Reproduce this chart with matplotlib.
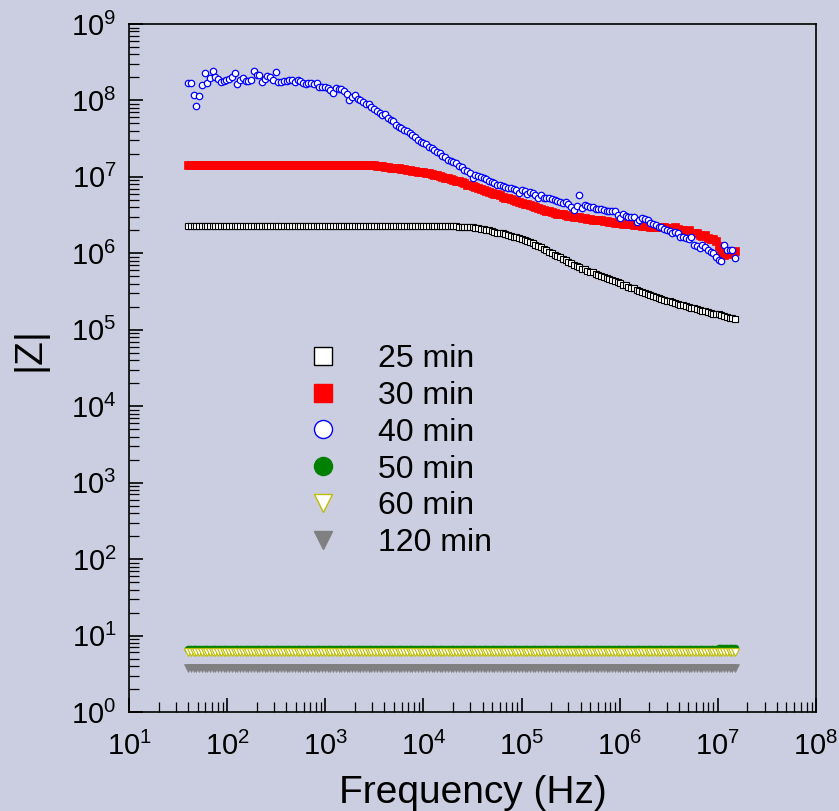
import numpy as np
import matplotlib
matplotlib.use('Agg')
import matplotlib.pyplot as plt
from matplotlib.ticker import LogLocator, NullFormatter
from matplotlib.lines import Line2D

plt.rcParams['font.family'] = ['Liberation Sans', 'DejaVu Sans']
plt.rcParams['mathtext.fontset'] = 'custom'
plt.rcParams['mathtext.rm'] = 'Liberation Sans'
plt.rcParams['mathtext.it'] = 'Liberation Sans:italic'
plt.rcParams['mathtext.bf'] = 'Liberation Sans:bold'

# ---------------- data ----------------
# logarithmic frequency sweep of the analyser
f_start, f_stop, n_points = 40.0, 1.5e7, 201

labels = ['25 min', '30 min', '40 min', '50 min', '60 min', '120 min']

# log10(|Z|), one value per sweep point
log_z25 = [
    6.36, 6.36, 6.36, 6.36, 6.36, 6.36, 6.36, 6.36, 6.36, 6.36,
    6.36, 6.36, 6.36, 6.36, 6.36, 6.36, 6.36, 6.36, 6.36, 6.36,
    6.36, 6.36, 6.36, 6.36, 6.36, 6.36, 6.36, 6.36, 6.36, 6.36,
    6.36, 6.36, 6.36, 6.36, 6.36, 6.36, 6.36, 6.36, 6.36, 6.36,
    6.36, 6.36, 6.36, 6.36, 6.36, 6.36, 6.36, 6.36, 6.36, 6.36,
    6.36, 6.36, 6.36, 6.36, 6.36, 6.36, 6.36, 6.36, 6.36, 6.36,
    6.36, 6.36, 6.36, 6.36, 6.36, 6.36, 6.36, 6.36, 6.36, 6.36,
    6.36, 6.36, 6.36, 6.36, 6.36, 6.36, 6.36, 6.36, 6.36, 6.36,
    6.36, 6.36, 6.36, 6.36, 6.36, 6.36, 6.36, 6.36, 6.36, 6.36,
    6.36, 6.36, 6.36, 6.36, 6.36, 6.36, 6.36, 6.36, 6.36, 6.35,
    6.35, 6.35, 6.34, 6.34, 6.34, 6.33, 6.33, 6.32, 6.32, 6.31,
    6.30, 6.29, 6.28, 6.27, 6.26, 6.26, 6.25, 6.24, 6.23, 6.22,
    6.21, 6.20, 6.19, 6.18, 6.16, 6.15, 6.13, 6.11, 6.10, 6.08,
    6.06, 6.04, 6.02, 6.00, 5.98, 5.96, 5.95, 5.93, 5.91, 5.89,
    5.87, 5.85, 5.83, 5.82, 5.80, 5.79, 5.77, 5.76, 5.75, 5.73,
    5.72, 5.70, 5.69, 5.68, 5.66, 5.65, 5.64, 5.62, 5.61, 5.59,
    5.58, 5.56, 5.55, 5.54, 5.52, 5.51, 5.50, 5.48, 5.47, 5.46,
    5.44, 5.43, 5.41, 5.40, 5.39, 5.38, 5.37, 5.36, 5.35, 5.34,
    5.33, 5.32, 5.31, 5.30, 5.29, 5.28, 5.27, 5.26, 5.25, 5.24,
    5.23, 5.22, 5.21, 5.20, 5.20, 5.19, 5.18, 5.17, 5.16, 5.15, 5.14,
]

log_z30 = [
    7.16, 7.16, 7.16, 7.16, 7.16, 7.16, 7.16, 7.16, 7.16, 7.16,
    7.16, 7.16, 7.16, 7.16, 7.16, 7.16, 7.16, 7.16, 7.16, 7.16,
    7.16, 7.16, 7.16, 7.16, 7.16, 7.16, 7.16, 7.16, 7.16, 7.16,
    7.16, 7.16, 7.16, 7.16, 7.16, 7.16, 7.16, 7.16, 7.16, 7.16,
    7.16, 7.16, 7.16, 7.16, 7.16, 7.16, 7.16, 7.16, 7.16, 7.16,
    7.16, 7.16, 7.16, 7.16, 7.16, 7.16, 7.16, 7.16, 7.16, 7.16,
    7.16, 7.16, 7.16, 7.16, 7.15, 7.15, 7.15, 7.15, 7.15, 7.14,
    7.14, 7.14, 7.13, 7.13, 7.12, 7.12, 7.11, 7.11, 7.10, 7.10,
    7.09, 7.09, 7.08, 7.08, 7.07, 7.07, 7.06, 7.05, 7.05, 7.04,
    7.03, 7.02, 7.01, 7.00, 6.99, 6.98, 6.97, 6.96, 6.95, 6.94,
    6.93, 6.92, 6.90, 6.89, 6.88, 6.87, 6.85, 6.84, 6.83, 6.81,
    6.80, 6.79, 6.78, 6.77, 6.76, 6.74, 6.73, 6.72, 6.71, 6.70,
    6.69, 6.67, 6.66, 6.65, 6.64, 6.63, 6.62, 6.60, 6.59, 6.58,
    6.57, 6.56, 6.55, 6.54, 6.53, 6.52, 6.51, 6.51, 6.50, 6.49,
    6.49, 6.48, 6.47, 6.47, 6.46, 6.46, 6.45, 6.45, 6.44, 6.44,
    6.43, 6.43, 6.42, 6.42, 6.41, 6.41, 6.40, 6.40, 6.40, 6.39,
    6.39, 6.38, 6.38, 6.37, 6.37, 6.37, 6.36, 6.36, 6.36, 6.35,
    6.35, 6.35, 6.34, 6.34, 6.34, 6.33, 6.33, 6.33, 6.34, 6.32,
    6.30, 6.30, 6.29, 6.30, 6.27, 6.26, 6.27, 6.24, 6.23, 6.24,
    6.20, 6.19, 6.19, 6.16, 6.10, 5.99, 5.98, 5.99, 6.00, 6.01, 6.03,
]

log_z40 = [
    8.23, 8.23, 8.07, 7.93, 8.06, 8.20, 8.36, 8.23, 8.30, 8.39,
    8.31, 8.28, 8.24, 8.26, 8.27, 8.28, 8.31, 8.36, 8.22, 8.27,
    8.29, 8.26, 8.25, 8.27, 8.39, 8.33, 8.33, 8.24, 8.28, 8.32,
    8.31, 8.27, 8.37, 8.24, 8.24, 8.25, 8.26, 8.27, 8.27, 8.24,
    8.27, 8.25, 8.23, 8.22, 8.23, 8.23, 8.22, 8.23, 8.18, 8.18,
    8.18, 8.16, 8.14, 8.10, 8.16, 8.15, 8.15, 8.12, 8.08, 8.00,
    8.05, 8.07, 8.02, 8.00, 7.98, 7.96, 7.96, 7.92, 7.89, 7.86,
    7.84, 7.81, 7.82, 7.77, 7.75, 7.73, 7.68, 7.65, 7.64, 7.61,
    7.60, 7.57, 7.55, 7.52, 7.48, 7.46, 7.44, 7.43, 7.39, 7.38,
    7.35, 7.33, 7.31, 7.27, 7.26, 7.22, 7.21, 7.20, 7.18, 7.14,
    7.13, 7.09, 7.08, 7.05, 6.99, 7.03, 7.01, 7.00, 6.99, 6.97,
    6.95, 6.93, 6.92, 6.89, 6.89, 6.88, 6.87, 6.86, 6.85, 6.84,
    6.83, 6.79, 6.83, 6.81, 6.78, 6.80, 6.79, 6.76, 6.72, 6.76,
    6.73, 6.72, 6.72, 6.71, 6.70, 6.69, 6.67, 6.66, 6.67, 6.64,
    6.61, 6.57, 6.62, 6.76, 6.59, 6.63, 6.62, 6.61, 6.60, 6.58,
    6.58, 6.58, 6.57, 6.56, 6.55, 6.56, 6.55, 6.50, 6.46, 6.51,
    6.49, 6.48, 6.47, 6.48, 6.41, 6.44, 6.46, 6.45, 6.44, 6.40,
    6.38, 6.37, 6.35, 6.34, 6.32, 6.31, 6.29, 6.27, 6.28, 6.27,
    6.21, 6.22, 6.20, 6.19, 6.21, 6.11, 6.09, 6.07, 6.11, 6.08,
    6.04, 6.02, 6.00, 5.95, 5.91, 5.90, 6.11, 6.04, 6.05, 6.04, 5.94,
]

log_z50 = [
    0.826, 0.826, 0.826, 0.826, 0.826, 0.826, 0.826, 0.826, 0.826, 0.826,
    0.826, 0.826, 0.826, 0.826, 0.826, 0.826, 0.826, 0.826, 0.826, 0.826,
    0.826, 0.826, 0.826, 0.826, 0.826, 0.826, 0.826, 0.826, 0.826, 0.826,
    0.826, 0.826, 0.826, 0.826, 0.826, 0.826, 0.826, 0.826, 0.826, 0.826,
    0.826, 0.826, 0.826, 0.826, 0.826, 0.826, 0.826, 0.826, 0.826, 0.826,
    0.826, 0.826, 0.826, 0.826, 0.826, 0.826, 0.826, 0.826, 0.826, 0.826,
    0.826, 0.826, 0.826, 0.826, 0.826, 0.826, 0.826, 0.826, 0.826, 0.826,
    0.826, 0.826, 0.826, 0.826, 0.826, 0.826, 0.826, 0.826, 0.826, 0.826,
    0.826, 0.826, 0.826, 0.826, 0.826, 0.826, 0.826, 0.826, 0.826, 0.826,
    0.826, 0.826, 0.826, 0.826, 0.826, 0.826, 0.826, 0.826, 0.826, 0.826,
    0.826, 0.826, 0.826, 0.826, 0.826, 0.826, 0.826, 0.826, 0.826, 0.826,
    0.826, 0.826, 0.826, 0.826, 0.826, 0.826, 0.826, 0.826, 0.826, 0.826,
    0.826, 0.826, 0.826, 0.826, 0.826, 0.826, 0.826, 0.826, 0.826, 0.826,
    0.826, 0.826, 0.826, 0.826, 0.826, 0.826, 0.826, 0.826, 0.826, 0.826,
    0.826, 0.826, 0.826, 0.826, 0.826, 0.826, 0.826, 0.826, 0.826, 0.826,
    0.826, 0.826, 0.826, 0.826, 0.826, 0.826, 0.826, 0.826, 0.826, 0.826,
    0.826, 0.826, 0.826, 0.826, 0.826, 0.826, 0.826, 0.826, 0.826, 0.826,
    0.826, 0.826, 0.826, 0.826, 0.826, 0.826, 0.826, 0.826, 0.826, 0.826,
    0.826, 0.826, 0.826, 0.826, 0.826, 0.826, 0.826, 0.826, 0.826, 0.826,
    0.826, 0.826, 0.826, 0.826, 0.836, 0.836, 0.836, 0.836, 0.836, 0.836, 0.836,
]

log_z60 = [
    0.785, 0.785, 0.785, 0.785, 0.785, 0.785, 0.785, 0.785, 0.785, 0.785,
    0.785, 0.785, 0.785, 0.785, 0.785, 0.785, 0.785, 0.785, 0.785, 0.785,
    0.785, 0.785, 0.785, 0.785, 0.785, 0.785, 0.785, 0.785, 0.785, 0.785,
    0.785, 0.785, 0.785, 0.785, 0.785, 0.785, 0.785, 0.785, 0.785, 0.785,
    0.785, 0.785, 0.785, 0.785, 0.785, 0.785, 0.785, 0.785, 0.785, 0.785,
    0.785, 0.785, 0.785, 0.785, 0.785, 0.785, 0.785, 0.785, 0.785, 0.785,
    0.785, 0.785, 0.785, 0.785, 0.785, 0.785, 0.785, 0.785, 0.785, 0.785,
    0.785, 0.785, 0.785, 0.785, 0.785, 0.785, 0.785, 0.785, 0.785, 0.785,
    0.785, 0.785, 0.785, 0.785, 0.785, 0.785, 0.785, 0.785, 0.785, 0.785,
    0.785, 0.785, 0.785, 0.785, 0.785, 0.785, 0.785, 0.785, 0.785, 0.785,
    0.785, 0.785, 0.785, 0.785, 0.785, 0.785, 0.785, 0.785, 0.785, 0.785,
    0.785, 0.785, 0.785, 0.785, 0.785, 0.785, 0.785, 0.785, 0.785, 0.785,
    0.785, 0.785, 0.785, 0.785, 0.785, 0.785, 0.785, 0.785, 0.785, 0.785,
    0.785, 0.785, 0.785, 0.785, 0.785, 0.785, 0.785, 0.785, 0.785, 0.785,
    0.785, 0.785, 0.785, 0.785, 0.785, 0.785, 0.785, 0.785, 0.785, 0.785,
    0.785, 0.785, 0.785, 0.785, 0.785, 0.785, 0.785, 0.785, 0.785, 0.785,
    0.785, 0.785, 0.785, 0.785, 0.785, 0.785, 0.785, 0.785, 0.785, 0.785,
    0.785, 0.785, 0.785, 0.785, 0.785, 0.785, 0.785, 0.785, 0.785, 0.785,
    0.785, 0.785, 0.785, 0.785, 0.785, 0.785, 0.785, 0.785, 0.785, 0.785,
    0.785, 0.785, 0.785, 0.785, 0.785, 0.785, 0.785, 0.785, 0.785, 0.785, 0.785,
]

log_z120 = [
    0.574, 0.574, 0.574, 0.574, 0.574, 0.574, 0.574, 0.574, 0.574, 0.574,
    0.574, 0.574, 0.574, 0.574, 0.574, 0.574, 0.574, 0.574, 0.574, 0.574,
    0.574, 0.574, 0.574, 0.574, 0.574, 0.574, 0.574, 0.574, 0.574, 0.574,
    0.574, 0.574, 0.574, 0.574, 0.574, 0.574, 0.574, 0.574, 0.574, 0.574,
    0.574, 0.574, 0.574, 0.574, 0.574, 0.574, 0.574, 0.574, 0.574, 0.574,
    0.574, 0.574, 0.574, 0.574, 0.574, 0.574, 0.574, 0.574, 0.574, 0.574,
    0.574, 0.574, 0.574, 0.574, 0.574, 0.574, 0.574, 0.574, 0.574, 0.574,
    0.574, 0.574, 0.574, 0.574, 0.574, 0.574, 0.574, 0.574, 0.574, 0.574,
    0.574, 0.574, 0.574, 0.574, 0.574, 0.574, 0.574, 0.574, 0.574, 0.574,
    0.574, 0.574, 0.574, 0.574, 0.574, 0.574, 0.574, 0.574, 0.574, 0.574,
    0.574, 0.574, 0.574, 0.574, 0.574, 0.574, 0.574, 0.574, 0.574, 0.574,
    0.574, 0.574, 0.574, 0.574, 0.574, 0.574, 0.574, 0.574, 0.574, 0.574,
    0.574, 0.574, 0.574, 0.574, 0.574, 0.574, 0.574, 0.574, 0.574, 0.574,
    0.574, 0.574, 0.574, 0.574, 0.574, 0.574, 0.574, 0.574, 0.574, 0.574,
    0.574, 0.574, 0.574, 0.574, 0.574, 0.574, 0.574, 0.574, 0.574, 0.574,
    0.574, 0.574, 0.574, 0.574, 0.574, 0.574, 0.574, 0.574, 0.574, 0.574,
    0.574, 0.574, 0.574, 0.574, 0.574, 0.574, 0.574, 0.574, 0.574, 0.574,
    0.574, 0.574, 0.574, 0.574, 0.574, 0.574, 0.574, 0.574, 0.574, 0.574,
    0.574, 0.574, 0.574, 0.574, 0.574, 0.574, 0.574, 0.574, 0.574, 0.574,
    0.574, 0.574, 0.574, 0.574, 0.574, 0.574, 0.574, 0.574, 0.574, 0.574, 0.574,
]

series = [log_z25, log_z30, log_z40, log_z50, log_z60, log_z120]

x_ticks_exp = [1, 2, 3, 4, 5, 6, 7, 8]
y_ticks_exp = [0, 1, 2, 3, 4, 5, 6, 7, 8, 9]

# ---------------- style ----------------
BG = '#CBCDE0'
styles = [
    dict(marker='s', ms=4.4, mfc='white', mec='black', mew=0.8),
    dict(marker='s', ms=5.6, mfc='#FF0000', mec='#FF0000', mew=0.5),
    dict(marker='o', ms=4.6, mfc='white', mec='#0000FF', mew=0.9),
    dict(marker='o', ms=5.0, mfc='#008000', mec='#008000', mew=0.5),
    dict(marker='v', ms=5.5, mfc='white', mec='#BEBE00', mew=0.8),
    dict(marker='v', ms=5.5, mfc='#808080', mec='#808080', mew=0.5),
]

freq = np.logspace(np.log10(f_start), np.log10(f_stop), n_points)

fig = plt.figure(figsize=(8.39, 8.11), dpi=100, facecolor=BG)
ax = fig.add_axes([0.1538, 0.1221, 0.8188, 0.8483], facecolor=BG)

for vals, st, lab in zip(series, styles, labels):
    ax.plot(freq, 10 ** np.asarray(vals), linestyle='none', label=lab, **st)

ax.set_xscale('log')
ax.set_yscale('log')
ax.set_xlim(10.0 ** x_ticks_exp[0], 10.0 ** x_ticks_exp[-1])
ax.set_ylim(10.0 ** y_ticks_exp[0], 10.0 ** y_ticks_exp[-1])
ax.set_xticks([10.0 ** e for e in x_ticks_exp])
ax.set_yticks([10.0 ** e for e in y_ticks_exp])
ax.xaxis.set_minor_locator(LogLocator(base=10, subs=np.arange(2, 10), numticks=100))
ax.yaxis.set_minor_locator(LogLocator(base=10, subs=np.arange(2, 10), numticks=100))
ax.xaxis.set_minor_formatter(NullFormatter())
ax.yaxis.set_minor_formatter(NullFormatter())

ax.tick_params(which='both', direction='in', top=False, right=False, color='black')
ax.tick_params(which='major', length=10, width=1.2, labelsize=21)
ax.tick_params(which='minor', length=7.2, width=0.9)
ax.tick_params(axis='x', which='major', pad=14)
ax.tick_params(axis='y', which='major', pad=9)
for sp in ax.spines.values():
    sp.set_linewidth(1.2)
    sp.set_color('black')

ax.set_xlabel('Frequency (Hz)', fontsize=28)
ax.set_ylabel('|Z|', fontsize=28)
ax.xaxis.set_label_coords(0.5, -0.092)
ax.yaxis.set_label_coords(-0.118, 0.528)

handles = []
for st, lab in zip(styles, labels):
    hs = dict(st)
    hs['ms'] = 13
    hs['mew'] = 1.0
    handles.append(Line2D([], [], linestyle='none', **hs))
ax.legend(handles, labels, loc='upper left', bbox_to_anchor=(0.259, 0.535),
          frameon=False, fontsize=23, handlelength=1.0, handletextpad=1.22,
          labelspacing=0.215, borderpad=0, borderaxespad=0, numpoints=1)

fig.savefig('out.png', dpi=100, facecolor=BG)
